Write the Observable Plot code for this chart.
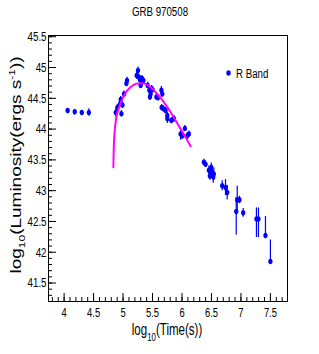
<!DOCTYPE html>
<html><head><meta charset="utf-8">
<script src="https://cdn.jsdelivr.net/npm/d3@7"></script>
<script src="https://cdn.jsdelivr.net/npm/@observablehq/plot@0.6"></script>
<style>body{margin:0;background:#fff} svg{display:block}</style>
</head><body><div id="chart"></div>
<script>
const chartTitle = "GRB 970508";
const seriesName = "R Band";
const logTime = [4.06, 4.18, 4.30, 4.42, 4.876, 4.904, 4.948, 4.96, 4.972, 4.99, 5.016, 5.057, 5.067, 5.231, 5.253, 5.27, 5.287, 5.299, 5.311, 5.321, 5.345, 5.417, 5.446, 5.456, 5.468, 5.485, 5.502, 5.565, 5.592, 5.65, 5.666, 5.655, 5.683, 5.722, 5.751, 5.751, 5.819, 5.863, 5.976, 6.005, 6.049, 6.09, 6.117, 6.371, 6.40, 6.456, 6.473, 6.496, 6.513, 6.53, 6.54, 6.682, 6.738, 6.767, 6.92, 6.937, 6.975, 7.038, 7.263, 7.297, 7.416, 7.50];
const logLum = [44.30, 44.28, 44.27, 44.27, 44.27, 44.35, 44.41, 44.48, 44.25, 44.39, 44.57, 44.74, 44.79, 44.87, 44.95, 44.84, 44.80, 44.71, 44.76, 44.82, 44.79, 44.71, 44.63, 44.52, 44.57, 44.65, 44.64, 44.52, 44.51, 44.63, 44.57, 44.35, 44.33, 44.30, 44.17, 44.22, 44.14, 44.17, 43.92, 43.89, 44.01, 43.89, 43.92, 43.46, 43.43, 43.33, 43.24, 43.38, 43.30, 43.22, 43.27, 43.08, 43.05, 42.97, 42.66, 42.85, 42.85, 42.64, 42.54, 42.54, 42.27, 41.85];
const errLow = [0.03, 0.03, 0.03, 0.06, 0.07, 0.05, 0.05, 0.05, 0.05, 0.05, 0.05, 0.05, 0.05, 0.06, 0.06, 0.05, 0.05, 0.05, 0.05, 0.05, 0.05, 0.05, 0.05, 0.05, 0.05, 0.06, 0.05, 0.05, 0.05, 0.06, 0.05, 0.05, 0.05, 0.05, 0.08, 0.05, 0.05, 0.05, 0.10, 0.05, 0.05, 0.05, 0.05, 0.05, 0.05, 0.07, 0.07, 0.07, 0.08, 0.1, 0.1, 0.08, 0.13, 0.12, 0.38, 0.22, 0.06, 0.07, 0.30, 0.30, 0.03, 0.0];
const errHigh = [0.03, 0.03, 0.03, 0.06, 0.07, 0.05, 0.05, 0.05, 0.05, 0.05, 0.05, 0.05, 0.05, 0.06, 0.06, 0.05, 0.05, 0.05, 0.05, 0.05, 0.05, 0.05, 0.05, 0.05, 0.05, 0.06, 0.05, 0.05, 0.05, 0.06, 0.05, 0.05, 0.05, 0.05, 0.08, 0.05, 0.05, 0.05, 0.10, 0.05, 0.05, 0.05, 0.05, 0.05, 0.05, 0.07, 0.07, 0.07, 0.08, 0.1, 0.1, 0.08, 0.13, 0.12, 0.23, 0.22, 0.06, 0.07, 0.18, 0.18, 0.31, 0.35];
const fitTime = [4.836, 4.847, 4.864, 4.892, 4.932, 4.988, 5.062, 5.141, 5.214, 5.299, 5.384, 5.468, 5.553, 5.638, 5.722, 5.807, 5.892, 5.976, 6.061, 6.146];
const fitLum = [43.379, 43.813, 44.030, 44.220, 44.355, 44.491, 44.615, 44.691, 44.734, 44.745, 44.734, 44.680, 44.599, 44.507, 44.398, 44.274, 44.138, 44.003, 43.867, 43.721];
const xMajor = [4, 4.5, 5, 5.5, 6, 6.5, 7, 7.5];
const yMajor = [41.5, 42, 42.5, 43, 43.5, 44, 44.5, 45, 45.5];
const xMinor = d3.range(38, 78).map(d => d / 10);
const yMinor = d3.range(413, 456).map(d => d / 10);

const W = 319, H = 354, mL = 48, mR = 32, mT = 35, mB = 53;
const fw = W - mL - mR, fh = H - mT - mB;
const K = 0.72; // horizontal squeeze of the original canvas
const pts = logTime.map((t, i) => ({t, l: logLum[i], lo: logLum[i] - errLow[i], hi: logLum[i] + errHigh[i]}));
const fit = fitTime.map((t, i) => ({t, l: fitLum[i]}));
const font = "'Liberation Sans', Arial, Helvetica, sans-serif";
const blue = "#0000ff";

// squeezed circle marker (ellipse)
const ellipse = {
  draw(ctx, size) {
    const ry = Math.sqrt(size / Math.PI), rx = ry * 0.78, c = 0.5523;
    ctx.moveTo(rx, 0);
    ctx.bezierCurveTo(rx, ry * c, rx * c, ry, 0, ry);
    ctx.bezierCurveTo(-rx * c, ry, -rx, ry * c, -rx, 0);
    ctx.bezierCurveTo(-rx, -ry * c, -rx * c, -ry, 0, -ry);
    ctx.bezierCurveTo(rx * c, -ry, rx, -ry * c, rx, 0);
    ctx.closePath();
  }
};

const plot = Plot.plot({
  width: W, height: H,
  marginLeft: mL, marginRight: mR, marginTop: mT, marginBottom: mB,
  style: {fontFamily: font, background: "#fff"},
  x: {domain: [3.735, 7.79]},
  y: {domain: [41.2, 45.52]},
  marks: [
    Plot.frame({stroke: "#000", strokeWidth: 1}),
    Plot.tickX(xMinor, {x: d => d, insetTop: fh - 4, stroke: "#000"}),
    Plot.tickX(xMajor, {x: d => d, insetTop: fh - 8, stroke: "#000"}),
    Plot.tickY(yMinor, {y: d => d, insetRight: fw - 4, stroke: "#000"}),
    Plot.tickY(yMajor, {y: d => d, insetRight: fw - 8, stroke: "#000"}),
    Plot.axisX({ticks: xMajor, tickSize: 0, tickPadding: 6, label: null, fontSize: 13, fill: "#000", tickFormat: d => String(d)}),
    Plot.axisY({ticks: yMajor, tickSize: 0, tickPadding: 2, label: null, fontSize: 13.5, fill: "#000", tickFormat: d => String(d)}),
    Plot.ruleX(pts, {x: "t", y1: "lo", y2: "hi", stroke: blue, strokeWidth: 1.2}),
    Plot.dot(pts, {x: "t", y: "l", r: 2.8, symbol: ellipse, fill: blue, stroke: "none"}),
    Plot.line(fit, {x: "t", y: "l", stroke: "#ff00ff", strokeWidth: 2, curve: "catmull-rom"})
  ]
});
document.getElementById("chart").appendChild(plot);

const svg = d3.select(plot);
// squeeze axis tick labels horizontally
svg.selectAll('g[aria-label="x-axis tick label"] text, g[aria-label="y-axis tick label"] text').each(function() {
  const el = d3.select(this);
  const tr = el.attr("transform") || "";
  const x = el.attr("x");
  if (x != null) el.attr("x", +x / K);
  el.attr("transform", tr + ` scale(${K},1)`);
});

function squeezedText(x, y, size, anchor) {
  return svg.append("text").attr("transform", `translate(${x},${y}) scale(${K},1)`)
    .attr("text-anchor", anchor).attr("font-family", font).attr("font-size", size).attr("fill", "#000");
}
squeezedText(160, 16, 13.5, "middle").text(chartTitle);
// legend
svg.append("ellipse").attr("cx", 228.5).attr("cy", 73).attr("rx", 2.2).attr("ry", 2.8).attr("fill", blue);
squeezedText(236, 77.5, 13.5, "start").text(seriesName);
// x label
const xl = squeezedText(167, 335, 16, "middle");
xl.append("tspan").text("log");
xl.append("tspan").attr("font-size", 11).attr("dy", 6).text("10");
xl.append("tspan").attr("dy", -6).text("(Time(s))");
// y label
const yl = svg.append("text").attr("transform", "translate(20.5,165) rotate(-90) scale(1,0.75)").attr("text-anchor", "middle")
  .attr("font-family", font).attr("font-size", 19).attr("fill", "#000");
yl.append("tspan").text("log");
yl.append("tspan").attr("font-size", 12).attr("dy", 6).text("10");
yl.append("tspan").attr("dy", -6).text("(Luminosity(ergs s");
yl.append("tspan").attr("font-size", 12).attr("dy", -8).text("-1");
yl.append("tspan").attr("dy", 8).text("))");
</script>
</body></html>
